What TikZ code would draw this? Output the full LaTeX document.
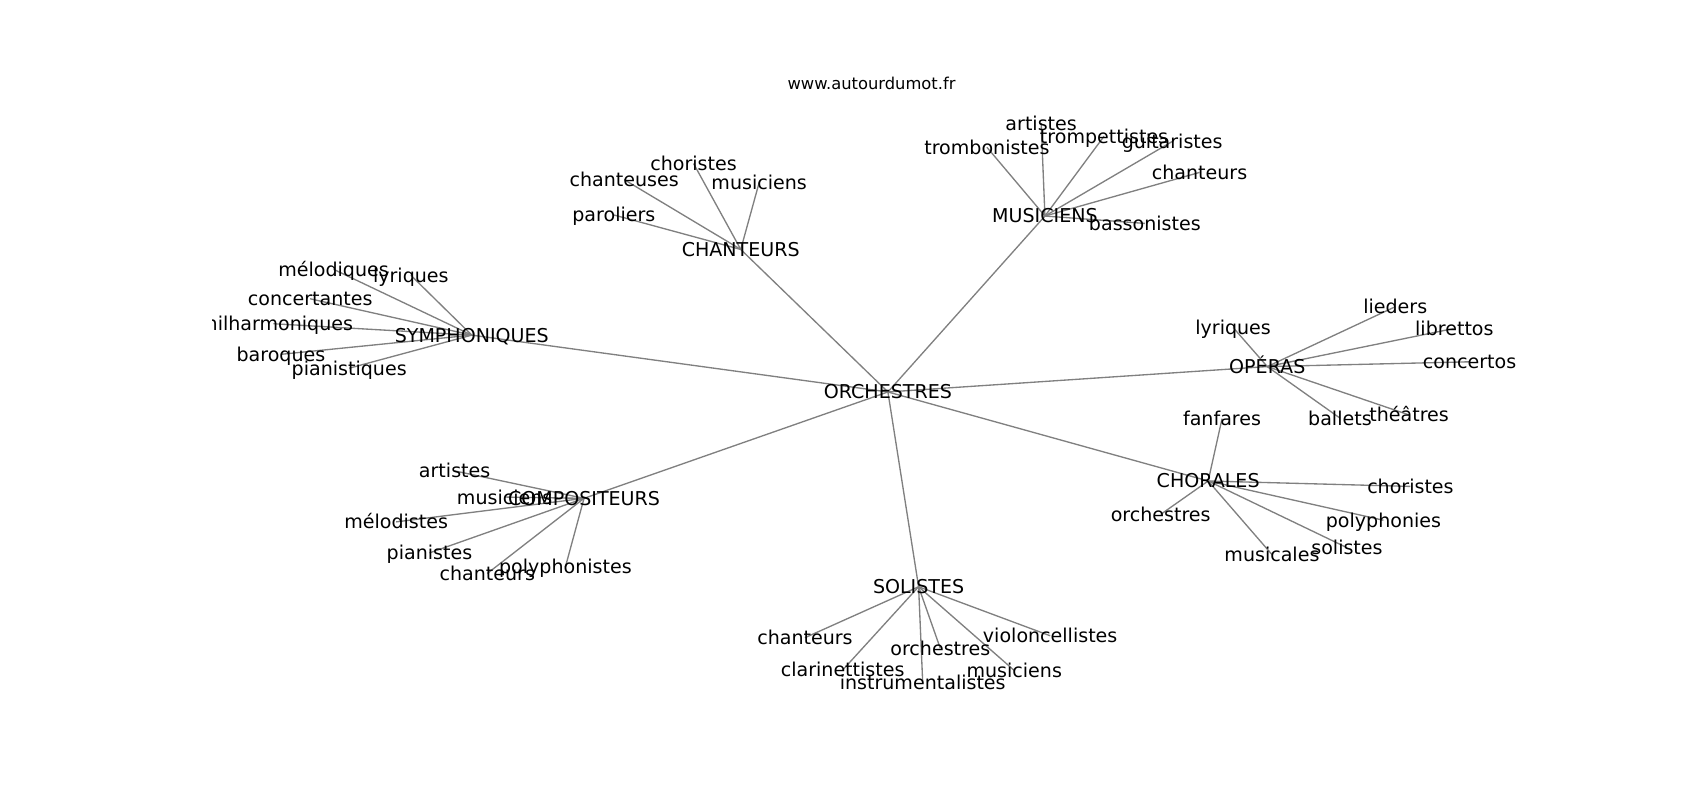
\documentclass[tikz,border=0pt]{standalone}
\usepackage{fontspec}
\setmainfont{DejaVu Sans}
\usetikzlibrary{backgrounds}
\tikzset{
	word/.style={inner sep=0pt, text height=7.3pt, text depth=0pt, font=\fontsize{10}{12}\selectfont},
	link/.style={draw=gray, line width=0.7pt}
}
\begin{document}
\begin{tikzpicture}[x=0.02cm, y=-0.02cm]
		\useasboundingbox (0,0) rectangle (1567.5,737.6);
		\node[inner sep=0pt, font=\fontsize{8.57}{10}\selectfont] (site) at (803.6,76.6) {www.autourdumot.fr};
		\begin{scope}
			\clip (195.9,88.5) rectangle (1410.6,656.5);
			\node[word] (orch) at (818.7,361.4) {ORCHESTRES};
			\node[word] (sym) at (435,309) {SYMPHONIQUES};
			\node[word] (chant) at (683,230) {CHANTEURS};
			\node[word] (mus) at (963.5,199.2) {MUSICIENS};
			\node[word] (op) at (1168.5,338) {OPÉRAS};
			\node[word] (chor) at (1114,443.5) {CHORALES};
			\node[word] (comp) at (538.5,459.5) {COMPOSITEURS};
			\node[word] (sol) at (847,541) {SOLISTES};
			\foreach \n/\x/\y/\t in {1/307.5/248.3/mélodiques, 2/378.8/253.8/lyriques, 3/286/275.5/concertantes,
					4/252/298.5/philharmoniques, 5/259/326.7/baroques, 6/322/339.5/pianistiques}
				\node[word] (sym\n) at (\x,\y) {\t};
			\foreach \n/\x/\y/\t in {1/639.5/150.8/choristes, 2/575.5/165.6/chanteuses, 3/700/168.3/musiciens,
					4/566/198.2/paroliers}
				\node[word] (chant\n) at (\x,\y) {\t};
			\foreach \n/\x/\y/\t in {1/910/135.8/trombonistes, 2/960/113.5/artistes, 3/1018/125.6/trompettistes,
					4/1080.8/130.5/guitaristes, 5/1106/159/chanteurs, 6/1055.6/206/bassonistes}
				\node[word] (mus\n) at (\x,\y) {\t};
			\foreach \n/\x/\y/\t in {1/1137/302/lyriques, 2/1286.5/282.8/lieders, 3/1341/302.8/librettos,
					4/1355/333.6/concertos, 5/1235.5/385.5/ballets, 6/1299.3/382.6/théâtres}
				\node[word] (op\n) at (\x,\y) {\t};
			\foreach \n/\x/\y/\t in {1/1126.8/386/fanfares, 2/1300.5/448.5/choristes, 3/1070.2/474.3/orchestres,
					4/1275.6/479.7/polyphonies, 5/1172.8/511.3/musicales, 6/1242/505/solistes}
				\node[word] (chor\n) at (\x,\y) {\t};
			\foreach \n/\x/\y/\t in {1/419.2/434.2/artistes, 2/465.3/458.3/musiciens, 3/365.3/481.2/mélodistes,
					4/396/509.8/pianistes, 5/449.3/528.8/chanteurs, 6/521.3/522.8/polyphonistes}
				\node[word] (comp\n) at (\x,\y) {\t};
			\foreach \n/\x/\y/\t in {1/742.2/588/chanteurs, 2/968.3/586.2/violoncellistes, 3/867/597.8/orchestres,
					4/777/617.8/clarinettistes, 5/935.2/618.2/musiciens, 6/850.8/629.8/instrumentalistes}
				\node[word] (sol\n) at (\x,\y) {\t};
		\end{scope}
		\begin{scope}[on background layer]
			\foreach \h in {sym,chant,mus,op,chor,comp,sol}
				\draw[link] (orch.center) -- (\h.center);
			\foreach \h/\k in {sym/6,chant/4,mus/6,op/6,chor/6,comp/6,sol/6}
				\foreach \n in {1,...,\k}
					\draw[link] (\h.center) -- (\h\n.center);
		\end{scope}
	\end{tikzpicture}
\end{document}
